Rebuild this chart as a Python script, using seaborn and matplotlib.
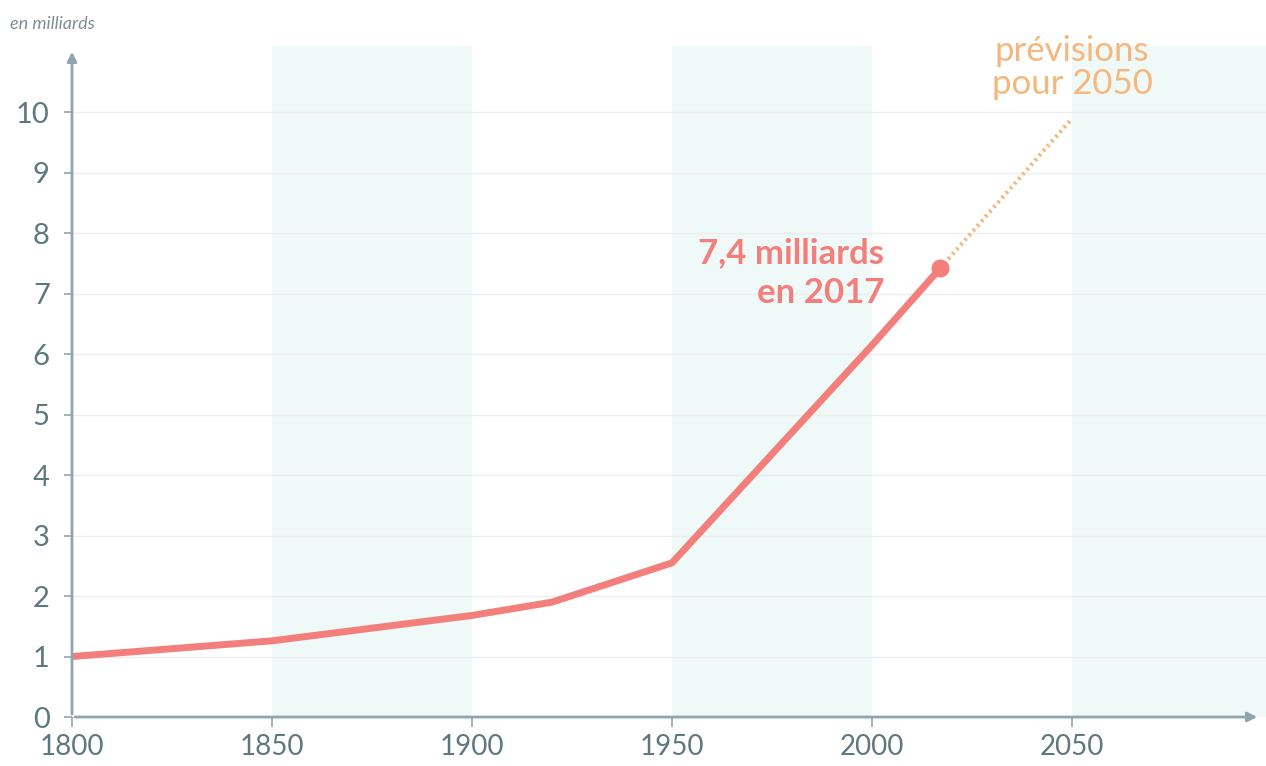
import matplotlib
matplotlib.use("Agg")
import matplotlib.pyplot as plt
import seaborn as sns
import pandas as pd

# population mondiale (milliards)
years = [1800, 1850, 1900, 1920, 1950, 2000, 2017]
population = [1.0, 1.26, 1.68, 1.9, 2.55, 6.15, 7.42]
forecast_years = [2017, 2050]
forecast_pop = [7.42, 9.9]
bands = [(1850, 1900), (1950, 2000), (2050, 2100)]
x_ticks = [1800, 1850, 1900, 1950, 2000, 2050]
y_ticks = list(range(0, 11))

sns.set_theme(style="white")
plt.rcParams['font.family'] = ['Lato', 'DejaVu Sans']

axis_col = "#8ea6ad"
tick_col = "#5d7880"
line_col = "#f27f7c"
orange = "#f6b77c"

fig = plt.figure(figsize=(12.66, 7.66), dpi=100)
ax = fig.add_axes([72 / 1266, 49 / 766, (1266 - 72) / 1266, 0.876])

df = pd.DataFrame({"annee": years, "pop": population})
for a, b in bands:
    ax.axvspan(a, b, color="#eff9f7", zorder=0, lw=0)
for y in y_ticks[1:]:
    ax.axhline(y, color="#eeeeee", lw=1, zorder=1)

sns.lineplot(data=df, x="annee", y="pop", color=line_col, lw=5, ax=ax, zorder=3)
ax.plot(forecast_years, forecast_pop, color=orange, lw=3, ls=(0, (0.6, 0.9)), zorder=2)
ax.plot([years[-1]], [population[-1]], "o", color=line_col, ms=12, zorder=4)

ax.set_xlim(1800, 2098.5)
ax.set_ylim(0, 11.1)
for s in ax.spines.values():
    s.set_visible(False)

# axes with arrows
ax.annotate("", xy=(2097, 0), xytext=(1800, 0),
            arrowprops=dict(arrowstyle="-|>", color=axis_col, lw=2, mutation_scale=14),
            annotation_clip=False)
ax.annotate("", xy=(1800, 11.05), xytext=(1800, 0),
            arrowprops=dict(arrowstyle="-|>", color=axis_col, lw=2, mutation_scale=14),
            annotation_clip=False)

ax.set_xticks(x_ticks)
ax.set_yticks(y_ticks)
ax.tick_params(axis="x", colors=axis_col, length=7, width=1.2, pad=5, labelsize=20,
               labelcolor=tick_col, bottom=True)
ax.tick_params(axis="y", colors=axis_col, length=6, width=1.2, pad=10, labelsize=21,
               labelcolor=tick_col, left=True)
ax.set_xlabel("")
ax.set_ylabel("")

fig.text(10 / 1266, 1 - 24 / 766, "en milliards", fontsize=13, style="italic",
         color="#7d8f95", va="center", ha="left")

ax.text(2003, 6.75, "7,4 milliards\nen 2017", color=line_col, fontsize=25,
        fontweight="bold", ha="right", va="bottom", linespacing=1.3)
ax.text(2050, 10.2, "prévisions\npour 2050", color=orange, fontsize=25,
        ha="center", va="bottom", linespacing=1.05)

fig.savefig("out.png", dpi=100)
